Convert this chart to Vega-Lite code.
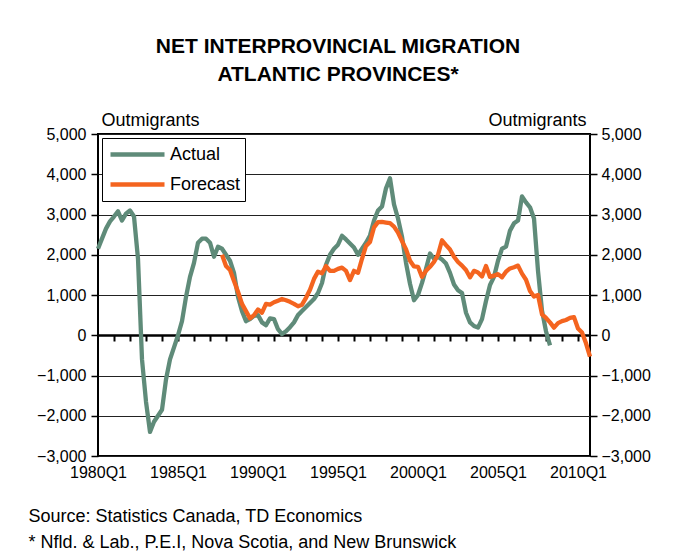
{
  "$schema": "https://vega.github.io/schema/vega-lite/v6.json",
  "width": 492,
  "height": 322,
  "autosize": {"type": "none"},
  "padding": {"left": 98, "top": 134, "right": 87, "bottom": 100},
  "background": "white",
  "title": {
    "text": ["NET INTERPROVINCIAL MIGRATION", "ATLANTIC PROVINCES*"],
    "fontSize": 21,
    "fontWeight": "bold",
    "lineHeight": 28,
    "anchor": "middle",
    "frame": "group",
    "dx": -6,
    "offset": 26,
    "color": "black"
  },
  "config": {
    "font": "Liberation Sans",
    "view": {"stroke": "black", "strokeWidth": 2},
    "axis": {"labelColor": "black", "titleColor": "black", "tickColor": "black"}
  },
  "data": {
    "values": [
      {"period":"1980Q1","series":"Actual","value":2150},
      {"period":"1980Q2","series":"Actual","value":2400},
      {"period":"1980Q3","series":"Actual","value":2650},
      {"period":"1980Q4","series":"Actual","value":2830},
      {"period":"1981Q1","series":"Actual","value":2950},
      {"period":"1981Q2","series":"Actual","value":3080},
      {"period":"1981Q3","series":"Actual","value":2850},
      {"period":"1981Q4","series":"Actual","value":3020},
      {"period":"1982Q1","series":"Actual","value":3100},
      {"period":"1982Q2","series":"Actual","value":2950},
      {"period":"1982Q3","series":"Actual","value":1900},
      {"period":"1982Q4","series":"Actual","value":-600},
      {"period":"1983Q1","series":"Actual","value":-1650},
      {"period":"1983Q2","series":"Actual","value":-2400},
      {"period":"1983Q3","series":"Actual","value":-2150},
      {"period":"1983Q4","series":"Actual","value":-2000},
      {"period":"1984Q1","series":"Actual","value":-1850},
      {"period":"1984Q2","series":"Actual","value":-1100},
      {"period":"1984Q3","series":"Actual","value":-600},
      {"period":"1984Q4","series":"Actual","value":-300},
      {"period":"1985Q1","series":"Actual","value":0},
      {"period":"1985Q2","series":"Actual","value":350},
      {"period":"1985Q3","series":"Actual","value":950},
      {"period":"1985Q4","series":"Actual","value":1450},
      {"period":"1986Q1","series":"Actual","value":1800},
      {"period":"1986Q2","series":"Actual","value":2300},
      {"period":"1986Q3","series":"Actual","value":2400},
      {"period":"1986Q4","series":"Actual","value":2400},
      {"period":"1987Q1","series":"Actual","value":2300},
      {"period":"1987Q2","series":"Actual","value":1950},
      {"period":"1987Q3","series":"Actual","value":2200},
      {"period":"1987Q4","series":"Actual","value":2150},
      {"period":"1988Q1","series":"Actual","value":2000},
      {"period":"1988Q2","series":"Actual","value":1850},
      {"period":"1988Q3","series":"Actual","value":1550},
      {"period":"1988Q4","series":"Actual","value":950},
      {"period":"1989Q1","series":"Actual","value":600},
      {"period":"1989Q2","series":"Actual","value":350},
      {"period":"1989Q3","series":"Actual","value":400},
      {"period":"1989Q4","series":"Actual","value":480},
      {"period":"1990Q1","series":"Actual","value":500},
      {"period":"1990Q2","series":"Actual","value":320},
      {"period":"1990Q3","series":"Actual","value":250},
      {"period":"1990Q4","series":"Actual","value":420},
      {"period":"1991Q1","series":"Actual","value":400},
      {"period":"1991Q2","series":"Actual","value":150},
      {"period":"1991Q3","series":"Actual","value":30},
      {"period":"1991Q4","series":"Actual","value":100},
      {"period":"1992Q1","series":"Actual","value":200},
      {"period":"1992Q2","series":"Actual","value":320},
      {"period":"1992Q3","series":"Actual","value":500},
      {"period":"1992Q4","series":"Actual","value":600},
      {"period":"1993Q1","series":"Actual","value":700},
      {"period":"1993Q2","series":"Actual","value":800},
      {"period":"1993Q3","series":"Actual","value":900},
      {"period":"1993Q4","series":"Actual","value":1050},
      {"period":"1994Q1","series":"Actual","value":1300},
      {"period":"1994Q2","series":"Actual","value":1750},
      {"period":"1994Q3","series":"Actual","value":2000},
      {"period":"1994Q4","series":"Actual","value":2150},
      {"period":"1995Q1","series":"Actual","value":2250},
      {"period":"1995Q2","series":"Actual","value":2470},
      {"period":"1995Q3","series":"Actual","value":2380},
      {"period":"1995Q4","series":"Actual","value":2280},
      {"period":"1996Q1","series":"Actual","value":2180},
      {"period":"1996Q2","series":"Actual","value":2000},
      {"period":"1996Q3","series":"Actual","value":2150},
      {"period":"1996Q4","series":"Actual","value":2300},
      {"period":"1997Q1","series":"Actual","value":2480},
      {"period":"1997Q2","series":"Actual","value":2850},
      {"period":"1997Q3","series":"Actual","value":3100},
      {"period":"1997Q4","series":"Actual","value":3200},
      {"period":"1998Q1","series":"Actual","value":3650},
      {"period":"1998Q2","series":"Actual","value":3900},
      {"period":"1998Q3","series":"Actual","value":3250},
      {"period":"1998Q4","series":"Actual","value":2900},
      {"period":"1999Q1","series":"Actual","value":2450},
      {"period":"1999Q2","series":"Actual","value":1800},
      {"period":"1999Q3","series":"Actual","value":1280},
      {"period":"1999Q4","series":"Actual","value":870},
      {"period":"2000Q1","series":"Actual","value":1000},
      {"period":"2000Q2","series":"Actual","value":1300},
      {"period":"2000Q3","series":"Actual","value":1650},
      {"period":"2000Q4","series":"Actual","value":2030},
      {"period":"2001Q1","series":"Actual","value":1900},
      {"period":"2001Q2","series":"Actual","value":1950},
      {"period":"2001Q3","series":"Actual","value":1880},
      {"period":"2001Q4","series":"Actual","value":1780},
      {"period":"2002Q1","series":"Actual","value":1550},
      {"period":"2002Q2","series":"Actual","value":1260},
      {"period":"2002Q3","series":"Actual","value":1120},
      {"period":"2002Q4","series":"Actual","value":1050},
      {"period":"2003Q1","series":"Actual","value":560},
      {"period":"2003Q2","series":"Actual","value":320},
      {"period":"2003Q3","series":"Actual","value":230},
      {"period":"2003Q4","series":"Actual","value":190},
      {"period":"2004Q1","series":"Actual","value":400},
      {"period":"2004Q2","series":"Actual","value":850},
      {"period":"2004Q3","series":"Actual","value":1250},
      {"period":"2004Q4","series":"Actual","value":1450},
      {"period":"2005Q1","series":"Actual","value":1850},
      {"period":"2005Q2","series":"Actual","value":2150},
      {"period":"2005Q3","series":"Actual","value":2200},
      {"period":"2005Q4","series":"Actual","value":2600},
      {"period":"2006Q1","series":"Actual","value":2780},
      {"period":"2006Q2","series":"Actual","value":2850},
      {"period":"2006Q3","series":"Actual","value":3450},
      {"period":"2006Q4","series":"Actual","value":3300},
      {"period":"2007Q1","series":"Actual","value":3180},
      {"period":"2007Q2","series":"Actual","value":2900},
      {"period":"2007Q3","series":"Actual","value":1600},
      {"period":"2007Q4","series":"Actual","value":610},
      {"period":"2008Q1","series":"Actual","value":100},
      {"period":"2008Q2","series":"Actual","value":-250},
      {"period":"1987Q4","series":"Forecast","value":2000},
      {"period":"1988Q1","series":"Forecast","value":1720},
      {"period":"1988Q2","series":"Forecast","value":1620},
      {"period":"1988Q3","series":"Forecast","value":1350},
      {"period":"1988Q4","series":"Forecast","value":1080},
      {"period":"1989Q1","series":"Forecast","value":780},
      {"period":"1989Q2","series":"Forecast","value":600},
      {"period":"1989Q3","series":"Forecast","value":420},
      {"period":"1989Q4","series":"Forecast","value":500},
      {"period":"1990Q1","series":"Forecast","value":640},
      {"period":"1990Q2","series":"Forecast","value":560},
      {"period":"1990Q3","series":"Forecast","value":780},
      {"period":"1990Q4","series":"Forecast","value":760},
      {"period":"1991Q1","series":"Forecast","value":820},
      {"period":"1991Q2","series":"Forecast","value":860},
      {"period":"1991Q3","series":"Forecast","value":900},
      {"period":"1991Q4","series":"Forecast","value":870},
      {"period":"1992Q1","series":"Forecast","value":830},
      {"period":"1992Q2","series":"Forecast","value":780},
      {"period":"1992Q3","series":"Forecast","value":720},
      {"period":"1992Q4","series":"Forecast","value":760},
      {"period":"1993Q1","series":"Forecast","value":930},
      {"period":"1993Q2","series":"Forecast","value":1130},
      {"period":"1993Q3","series":"Forecast","value":1400},
      {"period":"1993Q4","series":"Forecast","value":1580},
      {"period":"1994Q1","series":"Forecast","value":1540},
      {"period":"1994Q2","series":"Forecast","value":1720},
      {"period":"1994Q3","series":"Forecast","value":1600},
      {"period":"1994Q4","series":"Forecast","value":1600},
      {"period":"1995Q1","series":"Forecast","value":1650},
      {"period":"1995Q2","series":"Forecast","value":1680},
      {"period":"1995Q3","series":"Forecast","value":1600},
      {"period":"1995Q4","series":"Forecast","value":1370},
      {"period":"1996Q1","series":"Forecast","value":1600},
      {"period":"1996Q2","series":"Forecast","value":1550},
      {"period":"1996Q3","series":"Forecast","value":1900},
      {"period":"1996Q4","series":"Forecast","value":2220},
      {"period":"1997Q1","series":"Forecast","value":2320},
      {"period":"1997Q2","series":"Forecast","value":2680},
      {"period":"1997Q3","series":"Forecast","value":2810},
      {"period":"1997Q4","series":"Forecast","value":2815},
      {"period":"1998Q1","series":"Forecast","value":2800},
      {"period":"1998Q2","series":"Forecast","value":2785},
      {"period":"1998Q3","series":"Forecast","value":2700},
      {"period":"1998Q4","series":"Forecast","value":2550},
      {"period":"1999Q1","series":"Forecast","value":2340},
      {"period":"1999Q2","series":"Forecast","value":2140},
      {"period":"1999Q3","series":"Forecast","value":1850},
      {"period":"1999Q4","series":"Forecast","value":1710},
      {"period":"2000Q1","series":"Forecast","value":1700},
      {"period":"2000Q2","series":"Forecast","value":1450},
      {"period":"2000Q3","series":"Forecast","value":1600},
      {"period":"2000Q4","series":"Forecast","value":1700},
      {"period":"2001Q1","series":"Forecast","value":1820},
      {"period":"2001Q2","series":"Forecast","value":2000},
      {"period":"2001Q3","series":"Forecast","value":2360},
      {"period":"2001Q4","series":"Forecast","value":2240},
      {"period":"2002Q1","series":"Forecast","value":2130},
      {"period":"2002Q2","series":"Forecast","value":1950},
      {"period":"2002Q3","series":"Forecast","value":1820},
      {"period":"2002Q4","series":"Forecast","value":1730},
      {"period":"2003Q1","series":"Forecast","value":1620},
      {"period":"2003Q2","series":"Forecast","value":1440},
      {"period":"2003Q3","series":"Forecast","value":1600},
      {"period":"2003Q4","series":"Forecast","value":1560},
      {"period":"2004Q1","series":"Forecast","value":1460},
      {"period":"2004Q2","series":"Forecast","value":1720},
      {"period":"2004Q3","series":"Forecast","value":1450},
      {"period":"2004Q4","series":"Forecast","value":1480},
      {"period":"2005Q1","series":"Forecast","value":1520},
      {"period":"2005Q2","series":"Forecast","value":1440},
      {"period":"2005Q3","series":"Forecast","value":1580},
      {"period":"2005Q4","series":"Forecast","value":1660},
      {"period":"2006Q1","series":"Forecast","value":1690},
      {"period":"2006Q2","series":"Forecast","value":1730},
      {"period":"2006Q3","series":"Forecast","value":1530},
      {"period":"2006Q4","series":"Forecast","value":1380},
      {"period":"2007Q1","series":"Forecast","value":1100},
      {"period":"2007Q2","series":"Forecast","value":960},
      {"period":"2007Q3","series":"Forecast","value":1000},
      {"period":"2007Q4","series":"Forecast","value":520},
      {"period":"2008Q1","series":"Forecast","value":430},
      {"period":"2008Q2","series":"Forecast","value":320},
      {"period":"2008Q3","series":"Forecast","value":190},
      {"period":"2008Q4","series":"Forecast","value":300},
      {"period":"2009Q1","series":"Forecast","value":350},
      {"period":"2009Q2","series":"Forecast","value":380},
      {"period":"2009Q3","series":"Forecast","value":430},
      {"period":"2009Q4","series":"Forecast","value":450},
      {"period":"2010Q1","series":"Forecast","value":170},
      {"period":"2010Q2","series":"Forecast","value":70},
      {"period":"2010Q3","series":"Forecast","value":-200},
      {"period":"2010Q4","series":"Forecast","value":-530}
    ]
  },
  "resolve": {"axis": {"x": "independent", "y": "independent"}},
  "layer": [
    {
      "mark": {"type": "line", "strokeWidth": 4.3, "strokeJoin": "round"},
      "encoding": {
        "x": {
          "field": "period",
          "type": "ordinal",
          "scale": {"type": "point", "padding": 0},
          "axis": {
            "orient": "bottom",
            "values": ["1980Q1","1985Q1","1990Q1","1995Q1","2000Q1","2005Q1","2010Q1"],
            "labelAngle": 0,
            "labelFontSize": 16,
            "labelPadding": 8,
            "labelOverlap": false,
            "ticks": false,
            "domain": false,
            "grid": false,
            "title": ["Source: Statistics Canada, TD Economics", "* Nfld. & Lab., P.E.I, Nova Scotia, and New Brunswick"],
            "titleFontSize": 18,
            "titleFontWeight": "normal",
            "titleLineHeight": 26,
            "titleAlign": "left",
            "titleBaseline": "top",
            "titleAnchor": "start",
            "titleX": -70,
            "titleY": 51
          }
        },
        "y": {
          "field": "value",
          "type": "quantitative",
          "scale": {"domain": [-3000, 5000], "nice": false},
          "axis": {
            "orient": "left",
            "values": [-3000,-2000,-1000,0,1000,2000,3000,4000,5000],
            "format": ",d",
            "labelFontSize": 16,
            "labelPadding": 5,
            "tickSize": 7,
            "tickWidth": 1.5,
            "domain": false,
            "grid": true,
            "gridColor": "#222222",
            "gridWidth": 1,
            "title": "Outmigrants",
            "titleAngle": 0,
            "titleFontSize": 18,
            "titleFontWeight": "normal",
            "titleAlign": "left",
            "titleBaseline": "alphabetic",
            "titleX": 3,
            "titleY": -9
          }
        },
        "color": {
          "field": "series",
          "type": "nominal",
          "scale": {"domain": ["Actual", "Forecast"], "range": ["#5F8B79", "#F4641F"]},
          "legend": {
            "title": null,
            "orient": "top-left",
            "offset": 4,
            "padding": 4,
            "fillColor": "white",
            "strokeColor": "black",
            "symbolType": "stroke",
            "symbolSize": 2916,
            "symbolStrokeWidth": 4.5,
            "symbolOffset": 2,
            "clipHeight": 25,
            "rowPadding": 5,
            "labelFontSize": 18,
            "labelOffset": 3,
            "labelColor": "black"
          }
        }
      }
    },
    {
      "mark": {"type": "point", "opacity": 0},
      "encoding": {
        "x": {
          "field": "period",
          "type": "ordinal",
          "axis": {
            "orient": "bottom",
            "offset": -121,
            "values": ["1981Q1","1982Q1","1983Q1","1984Q1","1985Q1","1986Q1","1987Q1","1988Q1","1989Q1","1990Q1","1991Q1","1992Q1","1993Q1","1994Q1","1995Q1","1996Q1","1997Q1","1998Q1","1999Q1","2000Q1","2001Q1","2002Q1","2003Q1","2004Q1","2005Q1","2006Q1","2007Q1","2008Q1","2009Q1","2010Q1"],
            "labels": false,
            "ticks": true,
            "tickSize": 6,
            "tickWidth": 2,
            "domain": true,
            "domainColor": "black",
            "domainWidth": 2.5,
            "grid": false,
            "title": null
          }
        },
        "y": {
          "field": "value",
          "type": "quantitative",
          "axis": {
            "orient": "right",
            "values": [-3000,-2000,-1000,0,1000,2000,3000,4000,5000],
            "format": ",d",
            "labelFontSize": 16,
            "labelPadding": 4,
            "tickSize": 7,
            "tickWidth": 1.5,
            "domain": false,
            "grid": false,
            "title": "Outmigrants",
            "titleAngle": 0,
            "titleFontSize": 18,
            "titleFontWeight": "normal",
            "titleAlign": "right",
            "titleBaseline": "alphabetic",
            "titleX": -4,
            "titleY": -9
          }
        }
      }
    }
  ]
}
